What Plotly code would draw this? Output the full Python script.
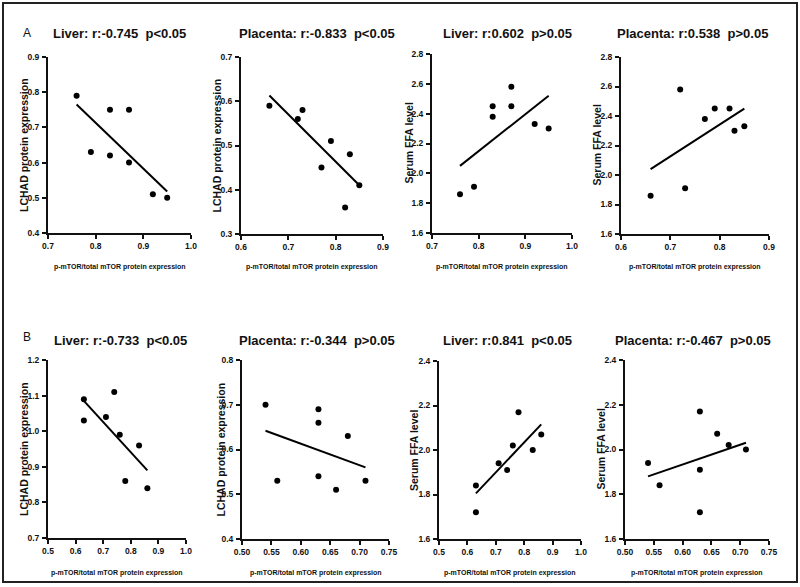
import plotly.graph_objects as go

# ---------------- data ----------------
titles = [
    "Liver: r:-0.745  p<0.05", "Placenta: r:-0.833  p<0.05",
    "Liver: r:0.602  p>0.05", "Placenta: r:0.538  p>0.05",
    "Liver: r:-0.733  p<0.05", "Placenta: r:-0.344  p>0.05",
    "Liver: r:0.841  p<0.05", "Placenta: r:-0.467  p>0.05",
]
y_titles = [
    "LCHAD protein expression", "LCHAD protein expression",
    "Serum FFA level", "Serum FFA level",
    "LCHAD protein expression", "LCHAD protein expression",
    "Serum FFA level", "Serum FFA level",
]
x_title = "p-mTOR/total mTOR protein expression"
row_labels = ["A", "B"]

a1_x = [0.76, 0.79, 0.83, 0.83, 0.87, 0.87, 0.92, 0.95]
a1_y = [0.79, 0.63, 0.75, 0.62, 0.75, 0.60, 0.51, 0.50]
a1_fit_x = [0.76, 0.95]
a1_fit_y = [0.765, 0.518]

a2_x = [0.66, 0.72, 0.73, 0.77, 0.79, 0.82, 0.83, 0.85]
a2_y = [0.59, 0.56, 0.58, 0.45, 0.51, 0.36, 0.48, 0.41]
a2_fit_x = [0.66, 0.85]
a2_fit_y = [0.613, 0.41]

a3_x = [0.76, 0.79, 0.83, 0.83, 0.87, 0.87, 0.92, 0.95]
a3_y = [1.86, 1.91, 2.45, 2.38, 2.58, 2.45, 2.33, 2.30]
a3_fit_x = [0.76, 0.95]
a3_fit_y = [2.05, 2.52]

a4_x = [0.66, 0.72, 0.73, 0.77, 0.79, 0.82, 0.83, 0.85]
a4_y = [1.86, 2.58, 1.91, 2.38, 2.45, 2.45, 2.30, 2.33]
a4_fit_x = [0.66, 0.85]
a4_fit_y = [2.04, 2.45]

b1_x = [0.63, 0.63, 0.71, 0.74, 0.76, 0.78, 0.83, 0.86]
b1_y = [1.09, 1.03, 1.04, 1.11, 0.99, 0.86, 0.96, 0.84]
b1_fit_x = [0.63, 0.86]
b1_fit_y = [1.085, 0.89]

b2_x = [0.54, 0.56, 0.63, 0.63, 0.63, 0.66, 0.68, 0.71]
b2_y = [0.70, 0.53, 0.69, 0.66, 0.54, 0.51, 0.63, 0.53]
b2_fit_x = [0.54, 0.71]
b2_fit_y = [0.642, 0.56]

b3_x = [0.63, 0.63, 0.71, 0.74, 0.76, 0.78, 0.83, 0.86]
b3_y = [1.84, 1.72, 1.94, 1.91, 2.02, 2.17, 2.00, 2.07]
b3_fit_x = [0.63, 0.86]
b3_fit_y = [1.805, 2.115]

b4_x = [0.54, 0.56, 0.63, 0.63, 0.63, 0.66, 0.68, 0.71]
b4_y = [1.94, 1.84, 2.17, 1.91, 1.72, 2.07, 2.02, 2.00]
b4_fit_x = [0.54, 0.71]
b4_fit_y = [1.88, 2.03]

x_ranges = [[0.7, 1.0], [0.6, 0.9], [0.7, 1.0], [0.6, 0.9],
            [0.5, 1.0], [0.50, 0.75], [0.5, 1.0], [0.50, 0.75]]
x_dticks = [0.1, 0.1, 0.1, 0.1, 0.1, 0.05, 0.1, 0.05]
x_formats = [".1f", ".1f", ".1f", ".1f", ".1f", ".2f", ".1f", ".2f"]
y_ranges = [[0.4, 0.9], [0.3, 0.7], [1.6, 2.8], [1.6, 2.8],
            [0.7, 1.2], [0.4, 0.8], [1.6, 2.4], [1.6, 2.4]]
y_dticks = [0.1, 0.1, 0.2, 0.2, 0.1, 0.1, 0.2, 0.2]

series = [
    (a1_x, a1_y, a1_fit_x, a1_fit_y), (a2_x, a2_y, a2_fit_x, a2_fit_y),
    (a3_x, a3_y, a3_fit_x, a3_fit_y), (a4_x, a4_y, a4_fit_x, a4_fit_y),
    (b1_x, b1_y, b1_fit_x, b1_fit_y), (b2_x, b2_y, b2_fit_x, b2_fit_y),
    (b3_x, b3_y, b3_fit_x, b3_fit_y), (b4_x, b4_y, b4_fit_x, b4_fit_y),
]

# ---------------- layout (pixel geometry) ----------------
W, H = 800, 587
# plot boxes: (left, right, top, bottom) in pixels
boxes = [
    (48, 191, 57, 233), (241, 383, 57, 234), (432, 572, 54, 233), (621, 769, 57, 234),
    (48, 186, 360, 538), (242, 389, 360, 539), (439, 581, 361, 539), (625, 769, 360, 539),
]
title_cx = [119, 317, 507, 692, 120, 317, 507, 693]
title_y = [33, 33, 33, 33, 340, 340, 340, 340]
ytitle_cx = [24, 216, 408, 596, 24, 220, 414, 600]
xtitle_y = [267, 267, 267, 267, 573, 573, 573, 573]

FONT = "Liberation Sans, Arial, sans-serif"
INK = "#111111"


def px(x):
    return x / W


def py(y):
    return 1 - y / H


fig = go.Figure()
annotations = []

for i, ((sx, sy, fx, fy), (l, r, t, b)) in enumerate(zip(series, boxes)):
    n = i + 1
    xa = "x" if n == 1 else f"x{n}"
    ya = "y" if n == 1 else f"y{n}"
    fig.add_trace(go.Scatter(x=sx, y=sy, mode="markers", xaxis=xa, yaxis=ya,
                             marker=dict(color="black", size=6), showlegend=False,
                             cliponaxis=False, hoverinfo="skip"))
    fig.add_trace(go.Scatter(x=fx, y=fy, mode="lines", xaxis=xa, yaxis=ya,
                             line=dict(color="black", width=2), showlegend=False,
                             hoverinfo="skip"))
    axcommon = dict(showgrid=False, zeroline=False, showline=True, linecolor=INK,
                    linewidth=2, ticks="outside", ticklen=4, tickwidth=2, tickcolor=INK,
                    tickfont=dict(family=FONT, size=8.5, color=INK, weight="bold"),
                    automargin=False, fixedrange=True)
    fig.layout[f"xaxis{'' if n == 1 else n}"] = dict(
        domain=[px(l), px(r)], range=x_ranges[i], dtick=x_dticks[i], tick0=0,
        tickformat=x_formats[i], anchor=ya, **axcommon)
    fig.layout[f"yaxis{'' if n == 1 else n}"] = dict(
        domain=[py(b), py(t)], range=y_ranges[i], dtick=y_dticks[i], tick0=0,
        tickformat=".1f", anchor=xa, ticklabelstandoff=1, **axcommon)
    annotations.append(dict(text=titles[i].replace("  ", " \u00a0"), xref="paper", yref="paper",
                            x=px(title_cx[i]), y=py(title_y[i]), showarrow=False,
                            xanchor="center", yanchor="middle",
                            font=dict(family=FONT, size=13, color=INK, weight="bold")))
    annotations.append(dict(text=x_title, xref="paper", yref="paper",
                            x=px((l + r) / 2), y=py(xtitle_y[i]), showarrow=False,
                            xanchor="center", yanchor="middle",
                            font=dict(family=FONT, size=7, color=INK, weight="bold")))
    annotations.append(dict(text=y_titles[i], xref="paper", yref="paper",
                            x=px(ytitle_cx[i]), y=py((t + b) / 2), showarrow=False,
                            textangle=-90, xanchor="center", yanchor="middle",
                            font=dict(family=FONT, size=10.5, color=INK, weight="bold")))

for lab, yy in zip(row_labels, [33, 337]):
    annotations.append(dict(text=lab, xref="paper", yref="paper", x=px(27), y=py(yy),
                            showarrow=False, xanchor="center", yanchor="middle",
                            font=dict(family=FONT, size=12, color=INK)))

fig.update_layout(
    template="none",
    width=W, height=H, margin=dict(l=0, r=0, t=0, b=0, autoexpand=False),
    paper_bgcolor="white", plot_bgcolor="white",
    annotations=annotations,
    shapes=[dict(type="rect", xref="paper", yref="paper",
                 x0=px(3), x1=px(797), y0=py(582), y1=py(3),
                 line=dict(color="#222222", width=2))],
)

fig.write_html("out.html",
               config={"displayModeBar": False, "staticPlot": True},
               post_script="document.body.style.margin='0';"
                           "document.body.style.overflow='hidden';")
